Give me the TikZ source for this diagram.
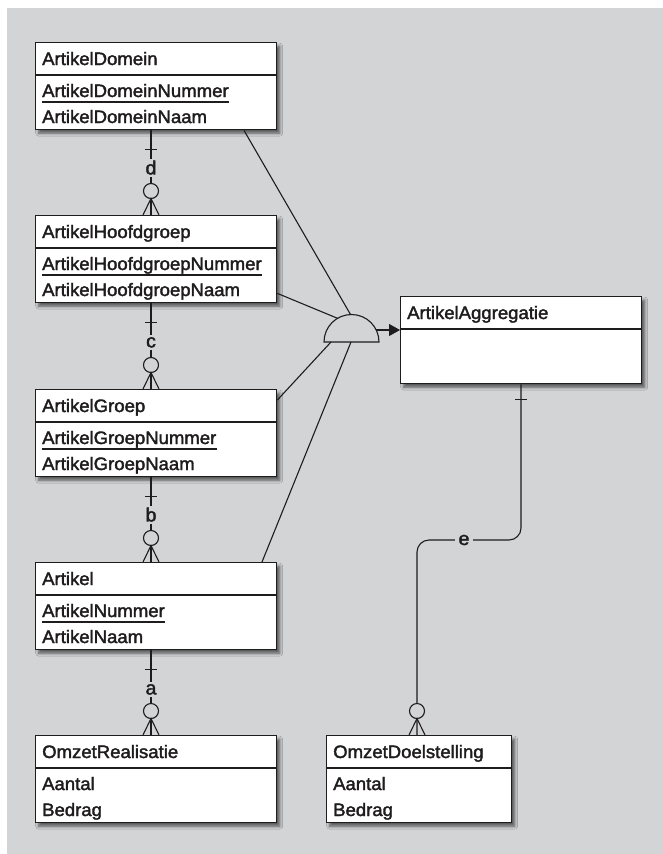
\documentclass[tikz,border=0pt]{standalone}
\usepackage{fontspec}
\setmainfont[FakeStretch=1.03,FakeBold=2]{Liberation Sans}
\usetikzlibrary{arrows.meta,shadows.blur,calc}
\definecolor{bggray}{HTML}{D3D4D6}
\definecolor{ink}{HTML}{1E1C1D}

% entity box: title compartment (33pt) above an attribute compartment
\newcommand\entity[5]{% #1 name, #2 x, #3 y, #4 width, #5 title
  \node[entbox, minimum width=#4pt] (#1) at (#2,#3) {};
  \draw[divider] ($(#1.north west)+(0,33)$) -- ($(#1.north east)+(0,33)$);
  \node[etext] (#1-title) at ($(#1.north west)+(7,23)$) {#5};
}
% primary key attribute (underlined) and plain attributes
\newcommand\keyattr[2]{%
  \node[etext] (#1-key) at ($(#1.north west)+(7,55)$) {#2};
  \draw[divider] ($(#1-key.base west)+(0,5)$) -- ($(#1-key.base east)+(0,5)$);
}
\newcommand\attr[4]{% #1 entity, #2 row name, #3 offset, #4 text
  \node[etext] (#1-#2) at ($(#1.north west)+(7,#3)$) {#4};
}
% one-to-many relationship: bar on the "one" side, circle and crow's foot on the "many" side
\newcommand\onemany[4]{% #1 parent, #2 child, #3 x, #4 label
  \coordinate (#4-one) at (#1.south -| #3,0);
  \coordinate (#4-many) at (#2.north -| #3,0);
  \draw[rel] (#4-one) -- (#4-many);
  \draw[rel] ($(#4-one)+(-6,19)$) -- ($(#4-one)+(6,19)$);
  \node[rlabel, anchor=base] at ($(#4-one)+(0,44)$) {#4};
  \draw[rel, fill=bggray] ($(#4-many)+(0,-24)$) circle[radius=7.5];
  \draw[rel] ($(#4-many)+(-8,0)$) -- ($(#4-many)+(0,-16.5)$) -- ($(#4-many)+(8,0)$);
}

\begin{document}
\begin{tikzpicture}[x=1pt,y=-1pt,
  entbox/.style={draw=ink, line width=1.4pt, fill=white, anchor=north west,
    inner sep=0pt, minimum height=87pt,
    blur shadow={shadow xshift=3pt, shadow yshift=-3.5pt, shadow blur radius=3pt, shadow opacity=60}},
  divider/.style={draw=ink, line width=1.2pt},
  etext/.style={anchor=base west, inner sep=0pt, font=\fontsize{18}{20}\selectfont, text=ink},
  rel/.style={draw=ink, line width=1.1pt},
  rlabel/.style={fill=bggray, inner xsep=2pt, inner ysep=2pt, font=\fontsize{19}{20}\selectfont, text=ink},
]
\fill[white] (0,0) rectangle (663,854);
\useasboundingbox (0,0) rectangle (663,854);
\fill[bggray] (7,8) rectangle (663,854);

% left column of the hierarchy
\entity{dom}{35}{42}{241}{ArtikelDomein}
\keyattr{dom}{ArtikelDomeinNummer}
\attr{dom}{naam}{81}{ArtikelDomeinNaam}

\entity{hoofd}{35}{215}{241}{ArtikelHoofdgroep}
\keyattr{hoofd}{ArtikelHoofdgroepNummer}
\attr{hoofd}{naam}{81}{ArtikelHoofdgroepNaam}

\entity{groep}{35}{389}{241}{ArtikelGroep}
\keyattr{groep}{ArtikelGroepNummer}
\attr{groep}{naam}{81}{ArtikelGroepNaam}

\entity{art}{35}{562}{241}{Artikel}
\keyattr{art}{ArtikelNummer}
\attr{art}{naam}{81}{ArtikelNaam}

\entity{omzr}{35}{735}{241}{OmzetRealisatie}
\attr{omzr}{aantal}{55}{Aantal}
\attr{omzr}{bedrag}{81}{Bedrag}

% right column
\entity{agg}{400}{296}{241}{ArtikelAggregatie}

\entity{omzd}{326}{735}{185}{OmzetDoelstelling}
\attr{omzd}{aantal}{55}{Aantal}
\attr{omzd}{bedrag}{81}{Bedrag}

% relationships a-d
\onemany{dom}{hoofd}{151}{d}
\onemany{hoofd}{groep}{151}{c}
\onemany{groep}{art}{151}{b}
\onemany{art}{omzr}{151}{a}

% relationship e
\coordinate (e-one) at (agg.south -| 521,0);
\coordinate (e-many) at (omzd.north -| 417,0);
\draw[rel, rounded corners=12pt] (e-one) -- (521,540) -- (417,540) -- (e-many);
\draw[rel] ($(e-one)+(-6,15)$) -- ($(e-one)+(6,15)$);
\node[rlabel, anchor=base, inner xsep=4pt] at (464,545) {e};
\draw[rel, fill=bggray] ($(e-many)+(0,-24)$) circle[radius=7.5];
\draw[rel] ($(e-many)+(-8,0)$) -- ($(e-many)+(0,-16.5)$) -- ($(e-many)+(8,0)$);

% aggregation symbol
\coordinate (aggc) at (351.5,342);
\draw[rel] ($(aggc)+(-27.5,0)$) arc[start angle=180, end angle=360, radius=27.5] -- cycle;
\draw[rel] (dom.south -| 244,0) -- ($(aggc)+(-1,-27.5)$);
\draw[rel] ($(hoofd.south east)+(0,-10)$) -- ($(aggc)+(-13.5,-23.5)$);
\draw[rel] ($(groep.north east)+(0,11)$) -- ($(aggc)+(-20.5,0)$);
\draw[rel] (art.north -| 262,0) -- ($(aggc)+(-0.5,0)$);
\coordinate (agg-in) at ($(agg.north west)+(0,34)$);
\draw[rel, -{Triangle[length=11pt, width=12pt]}] ($(aggc)+(24.5,-12)$) -- (agg-in);
\end{tikzpicture}
\end{document}
